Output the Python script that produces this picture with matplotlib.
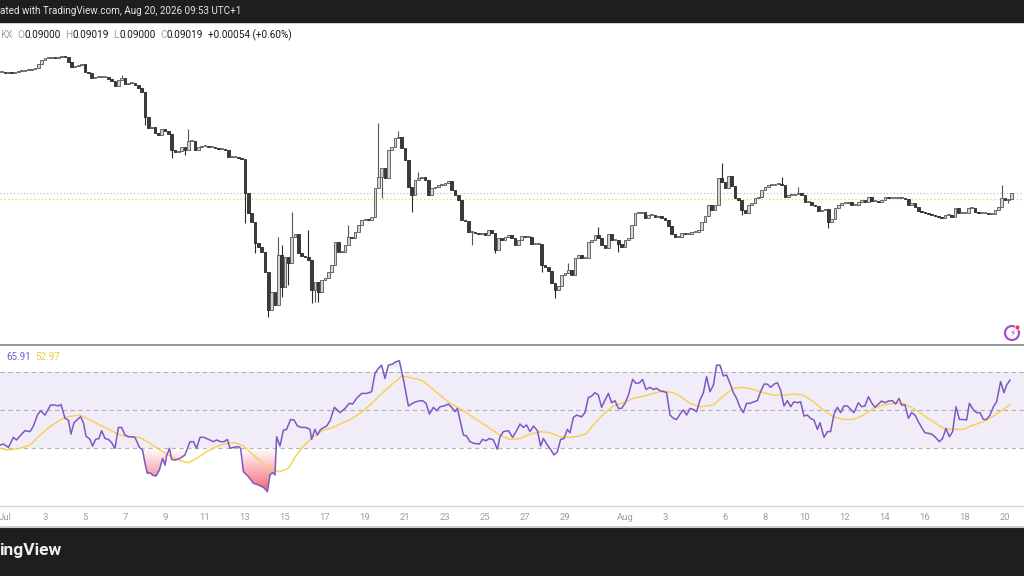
import numpy as np
import pandas as pd
import matplotlib
matplotlib.use('Agg')
import matplotlib.pyplot as plt
import matplotlib.dates as mdates
from matplotlib.patches import Rectangle, Circle
from matplotlib.path import Path
from matplotlib.transforms import IdentityTransform
from matplotlib.colors import to_rgb
from datetime import datetime

plt.rcParams['font.family'] = ['Roboto', 'DejaVu Sans']

# ---------------- data ----------------
BAR_START = '2026-06-30 20:00'   # 4h bars
FIRST_OPEN = 0.1023
CLOSE = [
    0.1023, 0.1022, 0.1023, 0.1022, 0.1023, 0.1024, 0.1024, 0.1025, 0.1025, 0.1026,
    0.1027, 0.1031, 0.1035, 0.1037, 0.1037, 0.1038, 0.1037, 0.1038, 0.1039, 0.1038,
    0.1033, 0.1028, 0.1029, 0.1030, 0.1031, 0.1023, 0.1022, 0.1017, 0.1018, 0.1018,
    0.1018, 0.1018, 0.1016, 0.1014, 0.1009, 0.1015, 0.1017, 0.1011, 0.1012, 0.1012,
    0.1010, 0.1007, 0.1003, 0.0978, 0.0967, 0.0968, 0.0962, 0.0960, 0.0966, 0.0964,
    0.0961, 0.0945, 0.0943, 0.0944, 0.0948, 0.0945, 0.0954, 0.0954, 0.0945, 0.0948,
    0.0949, 0.0949, 0.0948, 0.0948, 0.0947, 0.0946, 0.0946, 0.0945, 0.0938, 0.0938,
    0.0938, 0.0937, 0.0936, 0.0902, 0.0882, 0.0873, 0.0852, 0.0848, 0.0843, 0.0823,
    0.0785, 0.0803, 0.0790, 0.0840, 0.0808, 0.0838, 0.0832, 0.0858, 0.0861, 0.0842,
    0.0839, 0.0838, 0.0835, 0.0805, 0.0813, 0.0803, 0.0815, 0.0817, 0.0823, 0.0830,
    0.0853, 0.0843, 0.0843, 0.0850, 0.0858, 0.0857, 0.0863, 0.0870, 0.0875, 0.0876,
    0.0875, 0.0878, 0.0907, 0.0918, 0.0927, 0.0917, 0.0945, 0.0948, 0.0957, 0.0958,
    0.0947, 0.0935, 0.0908, 0.0900, 0.0915, 0.0917, 0.0918, 0.0915, 0.0900, 0.0907,
    0.0908, 0.0910, 0.0910, 0.0912, 0.0914, 0.0905, 0.0900, 0.0895, 0.0875, 0.0874,
    0.0863, 0.0863, 0.0862, 0.0861, 0.0862, 0.0860, 0.0865, 0.0862, 0.0845, 0.0857,
    0.0855, 0.0858, 0.0860, 0.0857, 0.0850, 0.0855, 0.0859, 0.0858, 0.0858, 0.0851,
    0.0851, 0.0851, 0.0830, 0.0828, 0.0824, 0.0812, 0.0805, 0.0809, 0.0820, 0.0822,
    0.0825, 0.0820, 0.0837, 0.0840, 0.0837, 0.0837, 0.0853, 0.0855, 0.0860, 0.0857,
    0.0850, 0.0847, 0.0861, 0.0855, 0.0855, 0.0851, 0.0848, 0.0855, 0.0857, 0.0870,
    0.0882, 0.0882, 0.0883, 0.0877, 0.0880, 0.0880, 0.0878, 0.0879, 0.0877, 0.0875,
    0.0869, 0.0861, 0.0858, 0.0858, 0.0862, 0.0861, 0.0861, 0.0863, 0.0863, 0.0865,
    0.0873, 0.0879, 0.0890, 0.0885, 0.0890, 0.0917, 0.0913, 0.0907, 0.0919, 0.0909,
    0.0897, 0.0895, 0.0885, 0.0882, 0.0890, 0.0892, 0.0897, 0.0898, 0.0905, 0.0908,
    0.0910, 0.0910, 0.0911, 0.0911, 0.0910, 0.0898, 0.0900, 0.0900, 0.0901, 0.0902,
    0.0900, 0.0893, 0.0893, 0.0890, 0.0889, 0.0884, 0.0885, 0.0886, 0.0873, 0.0876,
    0.0887, 0.0890, 0.0892, 0.0892, 0.0893, 0.0890, 0.0890, 0.0893, 0.0895, 0.0893,
    0.0898, 0.0894, 0.0894, 0.0893, 0.0895, 0.0898, 0.0897, 0.0897, 0.0897, 0.0897,
    0.0897, 0.0896, 0.0890, 0.0892, 0.0888, 0.0884, 0.0883, 0.0882, 0.0881, 0.0880,
    0.0879, 0.0878, 0.0877, 0.0880, 0.0880, 0.0878, 0.0887, 0.0882, 0.0882, 0.0882,
    0.0887, 0.0887, 0.0883, 0.0882, 0.0882, 0.0882, 0.0881, 0.0881, 0.0885, 0.0888,
    0.0897, 0.0895, 0.08965, 0.09019,
]
# wick extremes (bar index -> price)
UPPER_WICK = {36: 0.1020, 56: 0.0966, 83: 0.0858, 84: 0.0850, 87: 0.0883, 92: 0.0865,
              104: 0.0870, 113: 0.0972, 119: 0.0964, 125: 0.0923, 170: 0.0832,
              179: 0.0868, 216: 0.0932, 219: 0.0917, 234: 0.0918, 239: 0.0908,
              300: 0.0910}
LOWER_WICK = {43: 0.0970, 51: 0.0937, 55: 0.0940, 73: 0.0872, 76: 0.0842, 80: 0.0778,
              83: 0.0803, 84: 0.0798, 86: 0.0810, 93: 0.0792, 94: 0.0793, 95: 0.0793,
              114: 0.0897, 123: 0.0883, 141: 0.0850, 148: 0.0842, 162: 0.0823,
              166: 0.0797, 185: 0.0843, 222: 0.0880, 248: 0.0867, 302: 0.0892}

# RSI (days after Jul 1 00:00, value)
RSI_DAY = [-0.25, -0.08, 0.17, 0.42, 0.58, 0.75, 1.0, 1.25, 1.42, 1.62, 1.78, 2.0, 2.28, 2.5, 2.67,
           2.8, 3.0, 3.17, 3.3, 3.45, 3.62, 3.78, 3.92, 4.05, 4.25, 4.38, 4.53, 4.7, 4.83, 5.0,
           5.17, 5.33, 5.5, 5.67, 5.83, 6.0, 6.17, 6.33, 6.5, 6.72, 6.88, 7.0, 7.12, 7.25, 7.38,
           7.55, 7.72, 7.88, 8.0, 8.08, 8.22, 8.33, 8.5, 8.75, 9.0, 9.25, 9.42, 9.58, 9.75, 9.95,
           10.17, 10.42, 10.58, 10.78, 10.95, 11.12, 11.25, 11.42, 11.67, 11.78, 11.92, 12.17,
           12.42, 12.67, 12.92, 13.12, 13.25, 13.38, 13.5, 13.58, 13.75, 13.92, 14.08, 14.28,
           14.45, 14.63, 14.83, 15.05, 15.25, 15.33, 15.5, 15.62, 15.78, 16.08, 16.25, 16.47,
           16.75, 17.0, 17.22, 17.38, 17.58, 17.83, 18.08, 18.33, 18.5, 18.67, 18.83, 19.0,
           19.17, 19.38, 19.55, 19.72, 19.92, 20.17, 20.42, 20.67, 20.88, 21.05, 21.22, 21.42,
           21.58, 21.75, 21.95, 22.17, 22.33, 22.5, 22.62, 22.75, 22.92, 23.08, 23.25, 23.45,
           23.72, 23.88, 24.05, 24.22, 24.42, 24.62, 24.75, 24.92, 25.17, 25.38, 25.58, 25.75,
           25.92, 26.08, 26.25, 26.42, 26.62, 26.78, 26.92, 27.12, 27.28, 27.45, 27.62, 27.78,
           27.95, 28.12, 28.25, 28.42, 28.58, 28.83, 29.0, 29.17, 29.33, 29.5, 29.67, 29.83,
           30.0, 30.17, 30.33, 30.5, 30.67, 30.83, 31.0, 31.17, 31.38, 31.55, 31.72, 31.88,
           32.05, 32.25, 32.42, 32.58, 32.75, 32.95, 33.08, 33.25, 33.42, 33.58,
           33.75, 33.92, 34.08, 34.25, 34.42, 34.58, 34.75, 34.92, 35.08, 35.25, 35.42, 35.58,
           35.75, 35.92, 36.08, 36.25, 36.42, 36.58, 36.75, 36.92, 37.08, 37.25, 37.45, 37.62,
           37.78, 37.95, 38.12, 38.28, 38.45, 38.62, 38.78, 38.95, 39.12, 39.28, 39.45, 39.62,
           39.78, 39.95, 40.12, 40.28, 40.45, 40.62, 40.75, 40.95, 41.12, 41.28, 41.45, 41.62,
           41.78, 41.95, 42.12, 42.28, 42.45, 42.67, 42.83, 43.0, 43.17, 43.33, 43.5, 43.67,
           43.83, 44.0, 44.17, 44.37, 44.53, 44.7, 44.83, 45.0, 45.17, 45.33, 45.5, 45.67,
           45.83, 46.0, 46.17, 46.33, 46.5, 46.72, 46.88, 47.05, 47.22, 47.38, 47.55, 47.72,
           47.92, 48.08, 48.22, 48.42, 48.58, 48.75, 48.92, 49.08, 49.25, 49.42, 49.58, 49.78,
           49.95, 50.08, 50.25]
RSI_VAL = [31.7, 32.3, 30.5, 35.8, 34.4, 36.5, 39.3, 38.8, 41.7, 47.5, 49.8, 47.5, 52.8, 52.8, 52.3,
           53.1, 45.8, 44.9, 37.5, 43.5, 45.2, 46.6, 43.5, 36.5, 34.7, 31.2, 34.7, 35.2, 39.3, 35.2,
           34.7, 33.0, 30.0, 41.0, 41.0, 37.0, 36.1, 36.1, 35.8, 30.5, 29.1, 22.1, 16.8, 17.2, 15.9,
           15.4, 18.6, 24.7, 21.2, 26.0, 30.0, 24.2, 23.8, 24.7, 26.5, 33.5, 33.5, 30.0, 35.8, 35.8,
           34.7, 33.5, 34.4, 33.5, 33.5, 34.7, 30.0, 30.5, 30.9, 30.0, 17.7, 15.1,
           11.6, 10.7, 9.5, 7.2, 16.0, 17.2, 16.0, 36.1, 31.2, 39.6, 40.0, 45.2,
           44.9, 41.7, 41.0, 41.0, 40.0, 34.7, 40.0, 37.0, 40.0, 41.7, 44.5, 51.6,
           48.8, 51.0, 53.7, 53.3, 56.3, 58.9, 58.9, 59.8, 69.5, 72.1, 73.8, 66.8,
           73.8, 74.4, 75.6, 76.1, 66.3, 52.3, 54.0, 54.9, 55.1, 53.7, 48.0, 51.6,
           49.8, 51.9, 52.3, 53.3, 51.6, 49.3, 51.0, 44.9, 37.0, 36.5, 33.5, 32.6,
           32.3, 34.7, 34.0, 35.2, 34.4, 29.5, 36.1, 38.8, 39.3, 35.8, 39.3, 42.8,
           41.0, 42.3, 38.8, 41.7, 39.3, 31.2, 35.2, 31.7, 29.5, 26.5, 28.2, 34.7,
           35.2, 40.0, 38.2, 46.3, 47.5, 46.6, 48.8, 56.8, 57.5, 59.3, 58.0, 51.6,
           55.4, 58.9, 54.0, 55.1, 51.0, 51.0, 53.7, 58.0, 66.3, 64.2, 64.5, 66.3,
           61.0, 62.1, 61.0, 61.6, 60.3, 59.8, 59.3, 47.5, 45.8, 45.2,
           48.0, 50.2, 47.5, 51.0, 50.5, 49.3, 55.4, 59.3, 67.7, 59.8, 63.3, 73.8,
           73.8, 68.1, 68.6, 64.2, 59.3, 56.3, 51.6, 48.8, 53.7, 53.7, 54.5, 55.1,
           59.8, 63.8, 63.8, 62.1, 63.8, 64.5, 60.7, 52.3, 55.1, 51.9, 54.5, 54.0,
           54.5, 47.0, 47.5, 45.8, 44.9, 40.0, 43.5, 35.8, 38.8, 38.8, 48.0, 51.6,
           48.8, 52.3, 52.3, 50.5, 48.8, 54.0, 51.9, 52.3, 57.2, 54.0, 51.6, 53.3,
           54.9, 54.0, 54.9, 55.1, 53.3, 56.3, 52.8, 52.8, 45.8, 48.8, 47.5, 44.0,
           41.0, 38.2, 37.9, 37.5, 36.1, 33.5, 35.2, 40.5, 36.1, 38.8, 51.9, 45.2,
           45.2, 44.9, 53.7, 50.2, 48.8, 48.8, 45.2, 45.2, 47.5, 51.9, 54.5, 65.1,
           59.3, 63.3, 65.91]

# RSI moving average
MA_DAY = [-0.25, 0.17, 0.75, 1.25, 1.75, 2.25, 2.75, 3.08, 3.75, 4.25, 4.75, 5.25, 5.75, 6.25,
          6.75, 7.25, 7.75, 8.25, 8.75, 9.17, 9.58, 10.08, 10.58, 11.08, 11.5, 11.92, 12.42,
          12.92, 13.42, 13.75, 14.17, 14.58, 14.92, 15.42, 15.92, 16.42,
          16.75, 17.25, 17.75, 18.25, 18.75, 19.25, 19.58, 19.83, 20.08, 20.42, 20.83, 21.25,
          21.75, 22.25, 22.75, 23.25, 23.75, 24.25, 24.75, 25.25, 25.75, 26.25, 26.75, 27.25,
          27.75, 28.25, 28.75, 29.08, 29.42, 29.92, 30.42, 30.92, 31.42, 31.92, 32.42, 32.92,
          33.42, 33.75, 34.25, 34.75, 35.42, 35.92, 36.42, 36.92, 37.42, 37.92, 38.42, 38.92,
          39.42, 39.92, 40.42, 40.92, 41.42, 41.92, 42.42, 42.92, 43.42, 43.92, 44.42, 44.92,
          45.42, 45.92, 46.42, 46.92, 47.42, 47.92, 48.42, 48.92, 49.42, 49.92, 50.25]
MA_VAL = [30.0, 29.1, 30.0, 31.7, 37.0, 41.4, 44.9, 46.6, 47.5, 44.9, 42.3, 39.6, 37.0, 36.1,
          35.8, 32.6, 29.1, 26.0, 23.5, 22.4, 24.7, 28.2, 30.9, 32.6, 33.0, 31.2, 26.5,
          22.1, 18.6, 17.7, 19.5, 26.5, 31.2, 36.1, 39.6, 41.0,
          42.8, 45.2, 48.4, 52.8, 58.0, 62.8, 65.6, 68.1, 67.7, 66.8, 65.9, 62.4,
          58.0, 53.7, 51.0, 47.5, 44.0, 40.5, 37.0, 34.7, 35.2, 37.4, 38.8, 38.2,
          36.1, 35.8, 36.5, 37.9, 42.3, 48.0, 52.3, 54.0, 56.3, 57.5, 58.9, 60.3,
          59.3, 57.5, 53.7, 51.9, 52.8, 57.5, 61.6, 62.1, 61.0, 59.3, 58.0, 58.0,
          58.6, 58.0, 54.5, 50.2, 46.6, 45.2, 45.2, 47.5, 51.0, 52.8, 53.7, 53.7,
          51.0, 47.5, 44.0, 40.5, 40.0, 40.0, 42.3, 44.0, 47.0, 50.5, 52.97]

TICK_DATES = ['2026-07-01', '2026-07-03', '2026-07-05', '2026-07-07', '2026-07-09', '2026-07-11',
              '2026-07-13', '2026-07-15', '2026-07-17', '2026-07-19', '2026-07-21', '2026-07-23',
              '2026-07-25', '2026-07-27', '2026-07-29', '2026-08-01', '2026-08-03', '2026-08-06',
              '2026-08-08', '2026-08-10', '2026-08-12', '2026-08-14', '2026-08-16', '2026-08-18',
              '2026-08-20']
TICK_LABELS = ['Jul', '3', '5', '7', '9', '11', '13', '15', '17', '19', '21', '23', '25', '27',
               '29', 'Aug', '3', '6', '8', '10', '12', '14', '16', '18', '20']

HEADER_SYMBOL = 'KX'
HEADER_OHLC = [('O', '0.09000'), ('H', '0.09019'), ('L', '0.09000'), ('C', '0.09019')]
HEADER_CHANGE = '+0.00054 (+0.60%)'
TOP_TEXT = 'ated with TradingView.com, Aug 20, 2026 09:53 UTC+1'
BRAND = 'ingView'

# ---------------- figure ----------------
W, H = 1024, 576
fig = plt.figure(figsize=(W / 100, H / 100), dpi=100, facecolor='white')


def fx(x):
    return x / W


def fy(y):
    return 1 - y / H


def axes_px(x0, y0, x1, y1):
    return fig.add_axes([fx(x0), fy(y1), (x1 - x0) / W, (y1 - y0) / H])


base = mdates.date2num(datetime(2026, 7, 1))
x_left, x_right = base - 0.25, base + 50.95

main = axes_px(0, 22, W, 344)
rsi = axes_px(0, 345, W, 505.7)

# candles
close = np.array(CLOSE)
opn = np.concatenate([[FIRST_OPEN], close[:-1]])
n = len(close)
times = mdates.date2num(pd.date_range(BAR_START, periods=n, freq='4h').to_pydatetime())
high = np.maximum(opn, close)
low = np.minimum(opn, close)
for k, v in UPPER_WICK.items():
    high[k] = max(high[k], v)
for k, v in LOWER_WICK.items():
    low[k] = min(low[k], v)
up = close >= opn
face = np.where(up, '#d4d4d4', '#3a3a3a')
edge = np.where(up, '#555555', '#2a2a2a')
main.vlines(times, low, high, colors=edge, linewidth=0.8, zorder=2)
body_h = np.maximum(np.abs(close - opn), 0.00009)
main.bar(times, body_h, bottom=np.minimum(opn, close), width=0.125, color=face,
         edgecolor=edge, linewidth=0.6, zorder=3)

main.axhline(close[-1], color='#b5b5b5', ls=(0, (1, 2)), lw=0.8, zorder=1)
main.axhline(close[-2], color='#f3d250', ls=(0, (1, 2)), lw=0.9, zorder=1)
main.set_xlim(x_left, x_right)
main.set_ylim(0.0751, 0.1073)
main.set_xticks([])
main.set_yticks([])
for s in main.spines.values():
    s.set_visible(False)

# RSI panel
rd = base + np.array(RSI_DAY)
rv = np.array(RSI_VAL)
md = base + np.array(MA_DAY)
mv = np.array(MA_VAL)

rsi.axhspan(30, 70, color='#7e57c2', alpha=0.1, lw=0, zorder=0)
for lvl in (70, 50, 30):
    rsi.axhline(lvl, color='#787b86', alpha=0.55, lw=0.8, ls=(0, (4, 3)), zorder=1)


def gradient_fill(ax, x, y, ref, lo, hi, color, below):
    if below:
        coll = ax.fill_between(x, y, ref, where=y < ref, interpolate=True,
                               facecolor='none', edgecolor='none')
    else:
        coll = ax.fill_between(x, y, ref, where=y > ref, interpolate=True,
                               facecolor='none', edgecolor='none')
    paths = coll.get_paths()
    if not paths:
        return
    cp = Path.make_compound_path(*paths)
    grad = np.zeros((256, 1, 4))
    grad[..., :3] = to_rgb(color)
    a = np.linspace(0, 1, 256)
    grad[:, 0, 3] = (1 - a) if below else a
    im = ax.imshow(grad, extent=[x[0], x[-1], lo, hi], origin='lower', aspect='auto',
                   zorder=1.5, interpolation='bilinear')
    im.set_clip_path(cp, transform=ax.transData)


gradient_fill(rsi, rd, rv, 30, 0, 30, '#f23645', True)
gradient_fill(rsi, rd, rv, 70, 70, 100, '#089981', False)

rsi.plot(md, mv, color='#f7d04a', lw=1.0, zorder=3)
rsi.plot(rd, rv, color='#7e57c2', lw=1.1, zorder=4)

rsi.set_xlim(x_left, x_right)
rsi.set_ylim(-0.2, 84.4)
rsi.set_yticks([])
tick_nums = mdates.date2num(pd.to_datetime(TICK_DATES).to_pydatetime())
rsi.set_xticks(tick_nums)
rsi.set_xticklabels(TICK_LABELS)
rsi.tick_params(axis='x', length=0, pad=5, labelsize=6.8, labelcolor='#9a9da6')
for side in ('left', 'right'):
    rsi.spines[side].set_visible(False)
rsi.spines['top'].set_color('#8e8e8e')
rsi.spines['top'].set_linewidth(1.3)
rsi.spines['bottom'].set_color('#d3d3d3')
rsi.spines['bottom'].set_linewidth(1.0)

# bars top / bottom
fig.patches.append(Rectangle((0, fy(21.5)), 1, 21.5 / H, transform=fig.transFigure,
                             color='#1e1e1e', zorder=0))
fig.patches.append(Rectangle((0, 0), 1, (H - 527) / H, transform=fig.transFigure,
                             color='#1e1e1e', zorder=0))
fig.add_artist(plt.Line2D([0, 1], [fy(526.5), fy(526.5)], transform=fig.transFigure,
                          color='#c8c8c8', lw=0.8))

fig.text(fx(0), fy(11), TOP_TEXT, color='#e6e6e6', fontsize=7.1, va='center', ha='left')
fig.text(fx(-1), fy(551), BRAND, color='#f0f0f0', fontsize=12.5, fontweight='bold',
         va='center', ha='left')

# header of main panel: items chained left to right
renderer = fig.canvas.get_renderer()
HFS = 7.2


def put_after(x_px, s, color):
    t = fig.text(fx(x_px), fy(35), s, color=color, fontsize=HFS, va='center', ha='left')
    bb = t.get_window_extent(renderer=renderer)
    return bb.x1


cur = put_after(0, HEADER_SYMBOL, '#9ea1aa')
for (lab, val) in HEADER_OHLC:
    cur = put_after(cur + 4.5, lab, '#9ea1aa')
    cur = put_after(cur + 0.3, val, '#131722')
put_after(cur + 5, HEADER_CHANGE, '#131722')

# RSI legend
fig.text(fx(6), fy(357), f'{RSI_VAL[-1]:.2f}', color='#7e57c2', fontsize=7.1, va='center',
         ha='left')
fig.text(fx(35), fy(357), f'{MA_VAL[-1]:.2f}', color='#f2c94c', fontsize=7.1, va='center',
         ha='left')

# small lightning badge
cx, cy = 1012, H - 333
fig.add_artist(Circle((cx, cy), 7, transform=IdentityTransform(), facecolor='white',
                      edgecolor='#a84fd0', lw=1.6, zorder=5))
fig.text(fx(1012), fy(333.5), '\u26a1', color='#a84fd0', fontsize=6.5, ha='center',
         va='center', family=['DejaVu Sans'], zorder=6)
fig.add_artist(Circle((cx + 5.5, cy + 5.5), 2.5, transform=IdentityTransform(),
                      facecolor='#f23645', edgecolor='white', lw=0.6, zorder=7))

fig.savefig('out.png', dpi=100, facecolor='white')
